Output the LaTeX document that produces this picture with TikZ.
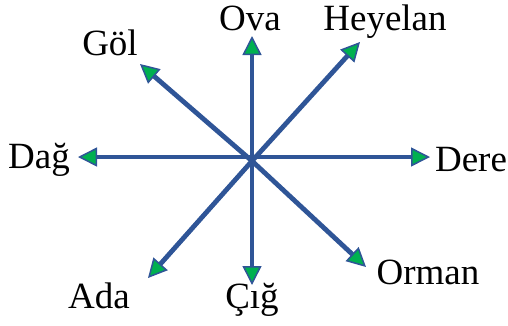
\documentclass[tikz,border=0pt]{standalone}
\usepackage{fontspec}
\setmainfont{Liberation Serif}
\usetikzlibrary{arrows.meta}
\definecolor{lineblue}{RGB}{47,85,151}
\definecolor{tipgreen}{RGB}{0,176,80}
\begin{document}
\begin{tikzpicture}[x=1pt,y=-1pt,
  ray/.style={draw=lineblue,line width=4.8pt,-{Triangle[length=19pt,width=19pt,line width=1.5pt,fill=tipgreen]}},
  lbl/.style={font=\fontsize{37}{40}\selectfont,inner sep=0pt}]
\useasboundingbox (0,0) rectangle (508,325);
\coordinate (c) at (252,161);
\coordinate (ch) at (252,157);
\coordinate (ova) at (252,36);
\coordinate (hey) at (360,42);
\coordinate (dere) at (430,157);
\coordinate (orm) at (366,267);
\coordinate (cig) at (252,285);
\coordinate (ada) at (148,278);
\coordinate (dag) at (78,157);
\coordinate (gol) at (140,64);
\draw[ray] (c) -- (ova);
\draw[ray] (c) -- (hey);
\draw[ray] (ch) -- (dere);
\draw[ray] (c) -- (orm);
\draw[ray] (c) -- (cig);
\draw[ray] (c) -- (ada);
\draw[ray] (ch) -- (dag);
\draw[ray] (c) -- (gol);
\node[lbl] (tova) at (250,18) {Ova};
\node[lbl] (they) at (385,22) {Heyelan};
\node[lbl] (tdere) at (471,160) {Dere};
\node[lbl] (torm) at (428,272) {Orman};
\node[lbl] (tcig) at (252,300) {Çığ};
\node[lbl] (tada) at (99,296) {Ada};
\node[lbl] (tdag) at (39,160) {Dağ};
\node[lbl] (tgol) at (110,43) {Göl};
\end{tikzpicture}
\end{document}
